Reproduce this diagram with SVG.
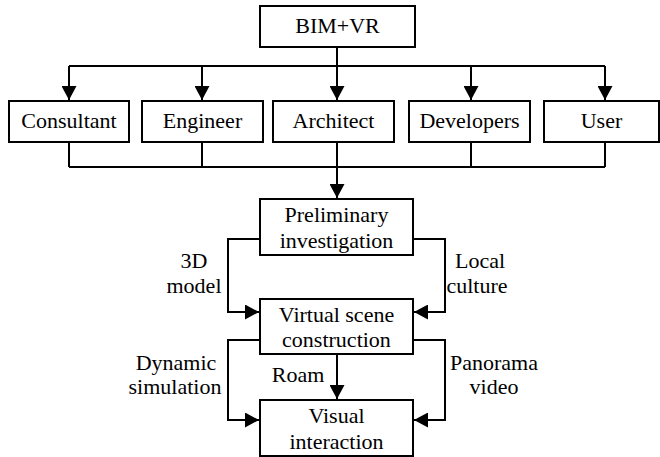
<svg xmlns="http://www.w3.org/2000/svg" width="660" height="457" viewBox="0 0 660 457" font-family="'Liberation Serif', 'DejaVu Serif', serif" font-size="22">
<style>
.box{fill:#fff;stroke:#000;stroke-width:2}
.ln{fill:none;stroke:#000;stroke-width:2}
text{font-family:'Liberation Serif','DejaVu Serif',serif;font-size:22px;fill:#000;text-anchor:middle}
</style>
<defs>
<marker id="ah" markerUnits="userSpaceOnUse" markerWidth="15" markerHeight="15" refX="14" refY="7.5" orient="auto" viewBox="0 0 15 15">
<path d="M0,0 L14,7.5 L0,15 z" fill="#000"/>
</marker>
</defs>
<rect width="660" height="457" fill="#fff"/>
<g id="connectors">
<path class="ln" d="M337,47 V66"/>
<path class="ln" d="M69,66 H605"/>
<path class="ln" d="M69,66 V100" marker-end="url(#ah)"/>
<path class="ln" d="M202,66 V100" marker-end="url(#ah)"/>
<path class="ln" d="M337,66 V100" marker-end="url(#ah)"/>
<path class="ln" d="M471,66 V100" marker-end="url(#ah)"/>
<path class="ln" d="M605,66 V100" marker-end="url(#ah)"/>
<path class="ln" d="M69,142 V167 M202,142 V167 M337,142 V167 M471,142 V167 M605,142 V167"/>
<path class="ln" d="M69,167 H605"/>
<path class="ln" d="M337,167 V198" marker-end="url(#ah)"/>
<path class="ln" d="M260,239 H228 V312 H259" marker-end="url(#ah)"/>
<path class="ln" d="M413,239 H445 V312 H414" marker-end="url(#ah)"/>
<path class="ln" d="M260,340 H228 V420 H259" marker-end="url(#ah)"/>
<path class="ln" d="M413,340 H445 V420 H414" marker-end="url(#ah)"/>
<path class="ln" d="M337,355 V399" marker-end="url(#ah)"/>
<text x="194" y="268">3D</text>
<text x="194" y="293">model</text>
<text x="480" y="268">Local</text>
<text x="477" y="293">culture</text>
<text x="176" y="370">Dynamic</text>
<text x="175" y="394">simulation</text>
<text x="298" y="382">Roam</text>
<text x="494" y="370">Panorama</text>
<text x="494" y="394">video</text>
</g>
<g id="bimvr"><rect class="box" x="260" y="6" width="155" height="41"/><text x="337.5" y="33">BIM+VR</text></g>
<g id="consultant"><rect class="box" x="9" y="101" width="120" height="41"/><text x="69" y="128">Consultant</text></g>
<g id="engineer"><rect class="box" x="142" y="101" width="121" height="41"/><text x="202.5" y="128">Engineer</text></g>
<g id="architect"><rect class="box" x="273" y="101" width="121" height="41"/><text x="333.5" y="128">Architect</text></g>
<g id="developers"><rect class="box" x="409" y="101" width="121" height="41"/><text x="469.5" y="128">Developers</text></g>
<g id="user"><rect class="box" x="544" y="101" width="115" height="41"/><text x="601.5" y="128">User</text></g>
<g id="preliminary"><rect class="box" x="260" y="199" width="153" height="56"/><text x="336.5" y="222">Preliminary</text><text x="336.5" y="248">investigation</text></g>
<g id="virtual"><rect class="box" x="260" y="299" width="153" height="55"/><text x="336.5" y="322">Virtual scene</text><text x="336.5" y="347">construction</text></g>
<g id="visual"><rect class="box" x="260" y="400" width="153" height="56"/><text x="336.5" y="423">Visual</text><text x="336.5" y="449">interaction</text></g>
</svg>
